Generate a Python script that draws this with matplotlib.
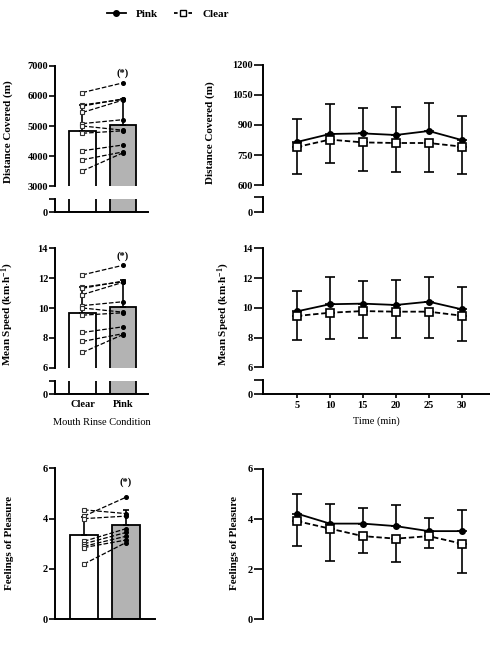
import numpy as np
import matplotlib
matplotlib.use('Agg')
import matplotlib.pyplot as plt
from matplotlib.lines import Line2D

plt.rcParams['font.family'] = ['Liberation Serif', 'DejaVu Serif']
plt.rcParams['font.weight'] = 'bold'
plt.rcParams['font.size'] = 7.5
plt.rcParams['mathtext.fontset'] = 'custom'
plt.rcParams['mathtext.rm'] = 'Liberation Serif:bold'
plt.rcParams['mathtext.default'] = 'rm'

conditions = ['Clear', 'Pink']

# left column: condition means, upper error, individual participants
dist_mean = [4820, 5030]
dist_err = [870, 880]
dist_clear = [6110, 5700, 5660, 5450, 5080, 5000, 4760, 4180, 3880, 3510]
dist_pink = [6430, 5880, 5900, 5860, 5210, 4860, 4840, 4370, 4140, 4110]

speed_mean = [9.64, 10.05]
speed_err = [1.75, 1.80]
speed_clear = [12.22, 11.40, 11.32, 10.90, 10.16, 10.00, 9.52, 8.36, 7.76, 7.02]
speed_pink = [12.86, 11.76, 11.80, 11.72, 10.42, 9.72, 9.68, 8.74, 8.28, 8.22]

pleas_mean = [3.35, 3.74]
pleas_err = [0.72, 0.62]
pleas_clear = [4.35, 4.10, 4.00, 3.10, 3.00, 2.90, 2.85, 2.20]
pleas_pink = [4.20, 4.85, 4.10, 3.60, 3.45, 3.30, 3.15, 3.05]

# right column: time course, pink mean + SD (up), clear mean - SD (down)
time = [5, 10, 15, 20, 25, 30]
dist_t_pink = [815, 855, 858, 850, 870, 825]
dist_t_pink_sd = [113, 150, 125, 142, 138, 122]
dist_t_clear = [790, 827, 813, 810, 810, 792]
dist_t_clear_sd = [135, 115, 145, 145, 147, 139]

speed_t_pink = [9.76, 10.24, 10.28, 10.19, 10.41, 9.90]
speed_t_pink_sd = [1.39, 1.80, 1.52, 1.71, 1.69, 1.47]
speed_t_clear = [9.45, 9.67, 9.78, 9.74, 9.74, 9.47]
speed_t_clear_sd = [1.62, 1.75, 1.79, 1.79, 1.79, 1.68]

pleas_t_pink = [4.22, 3.82, 3.82, 3.72, 3.52, 3.52]
pleas_t_pink_sd = [0.80, 0.80, 0.64, 0.83, 0.53, 0.86]
pleas_t_clear = [3.92, 3.62, 3.32, 3.22, 3.32, 3.02]
pleas_t_clear_sd = [1.00, 1.28, 0.68, 0.94, 0.48, 1.16]

W, H = 490, 645
fig = plt.figure(figsize=(W / 100, H / 100), dpi=100)

def box(x0, x1, ytop, ybot):
    return [x0 / W, 1 - ybot / H, (x1 - x0) / W, (ybot - ytop) / H]

lw = 1.4

def style(ax, bottom=True, ytick=4):
    for s in ['top', 'right']:
        ax.spines[s].set_visible(False)
    ax.spines['left'].set_linewidth(lw)
    ax.spines['bottom'].set_linewidth(lw)
    ax.spines['bottom'].set_visible(bottom)
    ax.tick_params(axis='y', direction='out', length=ytick, width=1.2, pad=1)
    ax.tick_params(axis='x', direction='out', length=3, width=1.2, pad=2)
    if not bottom:
        ax.set_xticks([])

def draw_bars(ax, means, errs, clear, pink, with_err=True):
    ax.bar([0, 1], means, width=0.66, color=['white', '#b3b3b3'],
           edgecolor='black', linewidth=1.3, zorder=1)
    if with_err:
        ax.errorbar([0, 1], means, yerr=[[0, 0], errs], fmt='none',
                    ecolor='black', elinewidth=1.2, capsize=2.5, capthick=1.2, zorder=2)
    for c, p in zip(clear, pink):
        ax.plot([0, 1], [c, p], ls='--', color='black', lw=0.9, zorder=3)
    ax.plot(np.zeros(len(clear)), clear, 's', ms=3.4, mfc='white', mec='#333333',
            mew=0.8, zorder=4, ls='none')
    ax.plot(np.ones(len(pink)), pink, 'o', ms=2.6, color='black', zorder=4, ls='none')

def draw_time(ax, pink, pink_sd, clear, clear_sd):
    ax.errorbar(time, pink, yerr=[np.zeros(len(pink)), pink_sd], fmt='none',
                ecolor='black', elinewidth=1.2, capsize=3.5, capthick=1.2, zorder=1)
    ax.errorbar(time, clear, yerr=[clear_sd, np.zeros(len(clear))], fmt='none',
                ecolor='black', elinewidth=1.2, capsize=3.5, capthick=1.2, zorder=1)
    ax.plot(time, pink, '-o', color='black', lw=1.3, ms=4, zorder=3)
    ax.plot(time, clear, '--s', color='black', lw=1.3, ms=6, mfc='white',
            mew=1.2, dashes=(3, 1.5), zorder=4)

lx = (-0.68, 1.62)

# ---- top left: distance (broken axis)
ax = fig.add_axes(box(55, 148, 65.7, 186.3))
draw_bars(ax, dist_mean, dist_err, dist_clear, dist_pink)
ax.set_ylim(3000, 7000)
ax.set_yticks([3000, 4000, 5000, 6000, 7000])
ax.set_xlim(*lx)
style(ax, bottom=False)
ax.text(1, 6750, '(*)', ha='center', va='center', fontsize=7.5)

ax = fig.add_axes(box(55, 148, 199, 212))
draw_bars(ax, dist_mean, dist_err, [], [], with_err=False)
ax.set_ylim(0, 500)
ax.set_yticks([0, 500])
ax.set_yticklabels(['0', ''])
ax.set_xlim(*lx)
style(ax)
ax.set_xticks([])
fig.text(8 / W, 1 - 132 / H, 'Distance Covered (m)', rotation=90, ha='center', va='center', fontsize=8)

# ---- middle left: speed (broken axis)
ax = fig.add_axes(box(55, 148, 248.3, 367.7))
draw_bars(ax, speed_mean, speed_err, speed_clear, speed_pink)
ax.set_ylim(6, 14)
ax.set_yticks([6, 8, 10, 12, 14])
ax.set_xlim(*lx)
style(ax, bottom=False)
ax.text(1, 13.45, '(*)', ha='center', va='center', fontsize=7.5)

ax = fig.add_axes(box(55, 148, 380.7, 394))
draw_bars(ax, speed_mean, speed_err, [], [], with_err=False)
ax.set_ylim(0, 1)
ax.set_yticks([0, 1])
ax.set_yticklabels(['0', ''])
ax.set_xlim(*lx)
style(ax)
ax.set_xticks([0, 1])
ax.set_xticklabels(conditions, fontsize=7.5)
ax.tick_params(axis='x', length=0, pad=4)
ax.set_xlabel('Mouth Rinse Condition', fontsize=7.5, labelpad=7)
fig.text(8 / W, 1 - 314 / H, 'Mean Speed (km$\\cdot$h$^{-1}$)', rotation=90, ha='center', va='center', fontsize=8)

# ---- bottom left: pleasure
ax = fig.add_axes(box(55, 155, 468.3, 619.3))
draw_bars(ax, pleas_mean, pleas_err, pleas_clear, pleas_pink)
ax.set_ylim(0, 6)
ax.set_yticks([0, 2, 4, 6])
ax.set_xlim(-0.69, 1.69)
style(ax)
ax.set_xticks([])
ax.text(1, 5.45, '(*)', ha='center', va='center', fontsize=7.5)
fig.text(9 / W, 1 - 543 / H, 'Feelings of Pleasure', rotation=90, ha='center', va='center', fontsize=8)

rx = (-0.1, 34.3)
rt = 6.5

# ---- top right: distance over time
ax = fig.add_axes(box(263.3, 490, 65, 185))
draw_time(ax, dist_t_pink, dist_t_pink_sd, dist_t_clear, dist_t_clear_sd)
ax.set_ylim(600, 1200)
ax.set_yticks([600, 750, 900, 1050, 1200])
ax.set_xlim(*rx)
style(ax, bottom=False, ytick=rt)

ax = fig.add_axes(box(263.3, 490, 196.7, 212))
ax.set_ylim(0, 1)
ax.set_yticks([0, 1])
ax.set_yticklabels(['0', ''])
ax.set_xlim(*rx)
style(ax, bottom=False, ytick=rt)
fig.text(210 / W, 1 - 133 / H, 'Distance Covered (m)', rotation=90, ha='center', va='center', fontsize=8)

# ---- middle right: speed over time
ax = fig.add_axes(box(263.3, 490, 248.3, 367.3))
draw_time(ax, speed_t_pink, speed_t_pink_sd, speed_t_clear, speed_t_clear_sd)
ax.set_ylim(6, 14)
ax.set_yticks([6, 8, 10, 12, 14])
ax.set_xlim(*rx)
style(ax, bottom=False, ytick=rt)

ax = fig.add_axes(box(263.3, 490, 380, 394))
ax.set_ylim(0, 1)
ax.set_yticks([0, 1])
ax.set_yticklabels(['0', ''])
ax.set_xlim(*rx)
style(ax, ytick=rt)
ax.set_xticks(time)
ax.set_xlabel('Time (min)', fontsize=7.5, labelpad=5)
fig.text(224 / W, 1 - 314 / H, 'Mean Speed (km$\\cdot$h$^{-1}$)', rotation=90, ha='center', va='center', fontsize=8)

# ---- bottom right: pleasure over time
ax = fig.add_axes(box(263.3, 490, 469, 619.3))
draw_time(ax, pleas_t_pink, pleas_t_pink_sd, pleas_t_clear, pleas_t_clear_sd)
ax.set_ylim(0, 6)
ax.set_yticks([0, 2, 4, 6])
ax.set_xlim(*rx)
style(ax, bottom=False, ytick=rt)
fig.text(234 / W, 1 - 543 / H, 'Feelings of Pleasure', rotation=90, ha='center', va='center', fontsize=8)

handles = [Line2D([], [], color='black', marker='o', ms=4, lw=1.3),
           Line2D([], [], color='black', marker='s', ms=5, mfc='white', lw=1.3, ls='--', dashes=(2, 2))]
fig.legend(handles, ['Pink', 'Clear'], loc='center', bbox_to_anchor=(168 / W, 1 - 14 / H),
           ncol=2, frameon=False, fontsize=8, handlelength=1.7, handletextpad=0.9, columnspacing=1.4)

fig.savefig('out.png', dpi=100)
